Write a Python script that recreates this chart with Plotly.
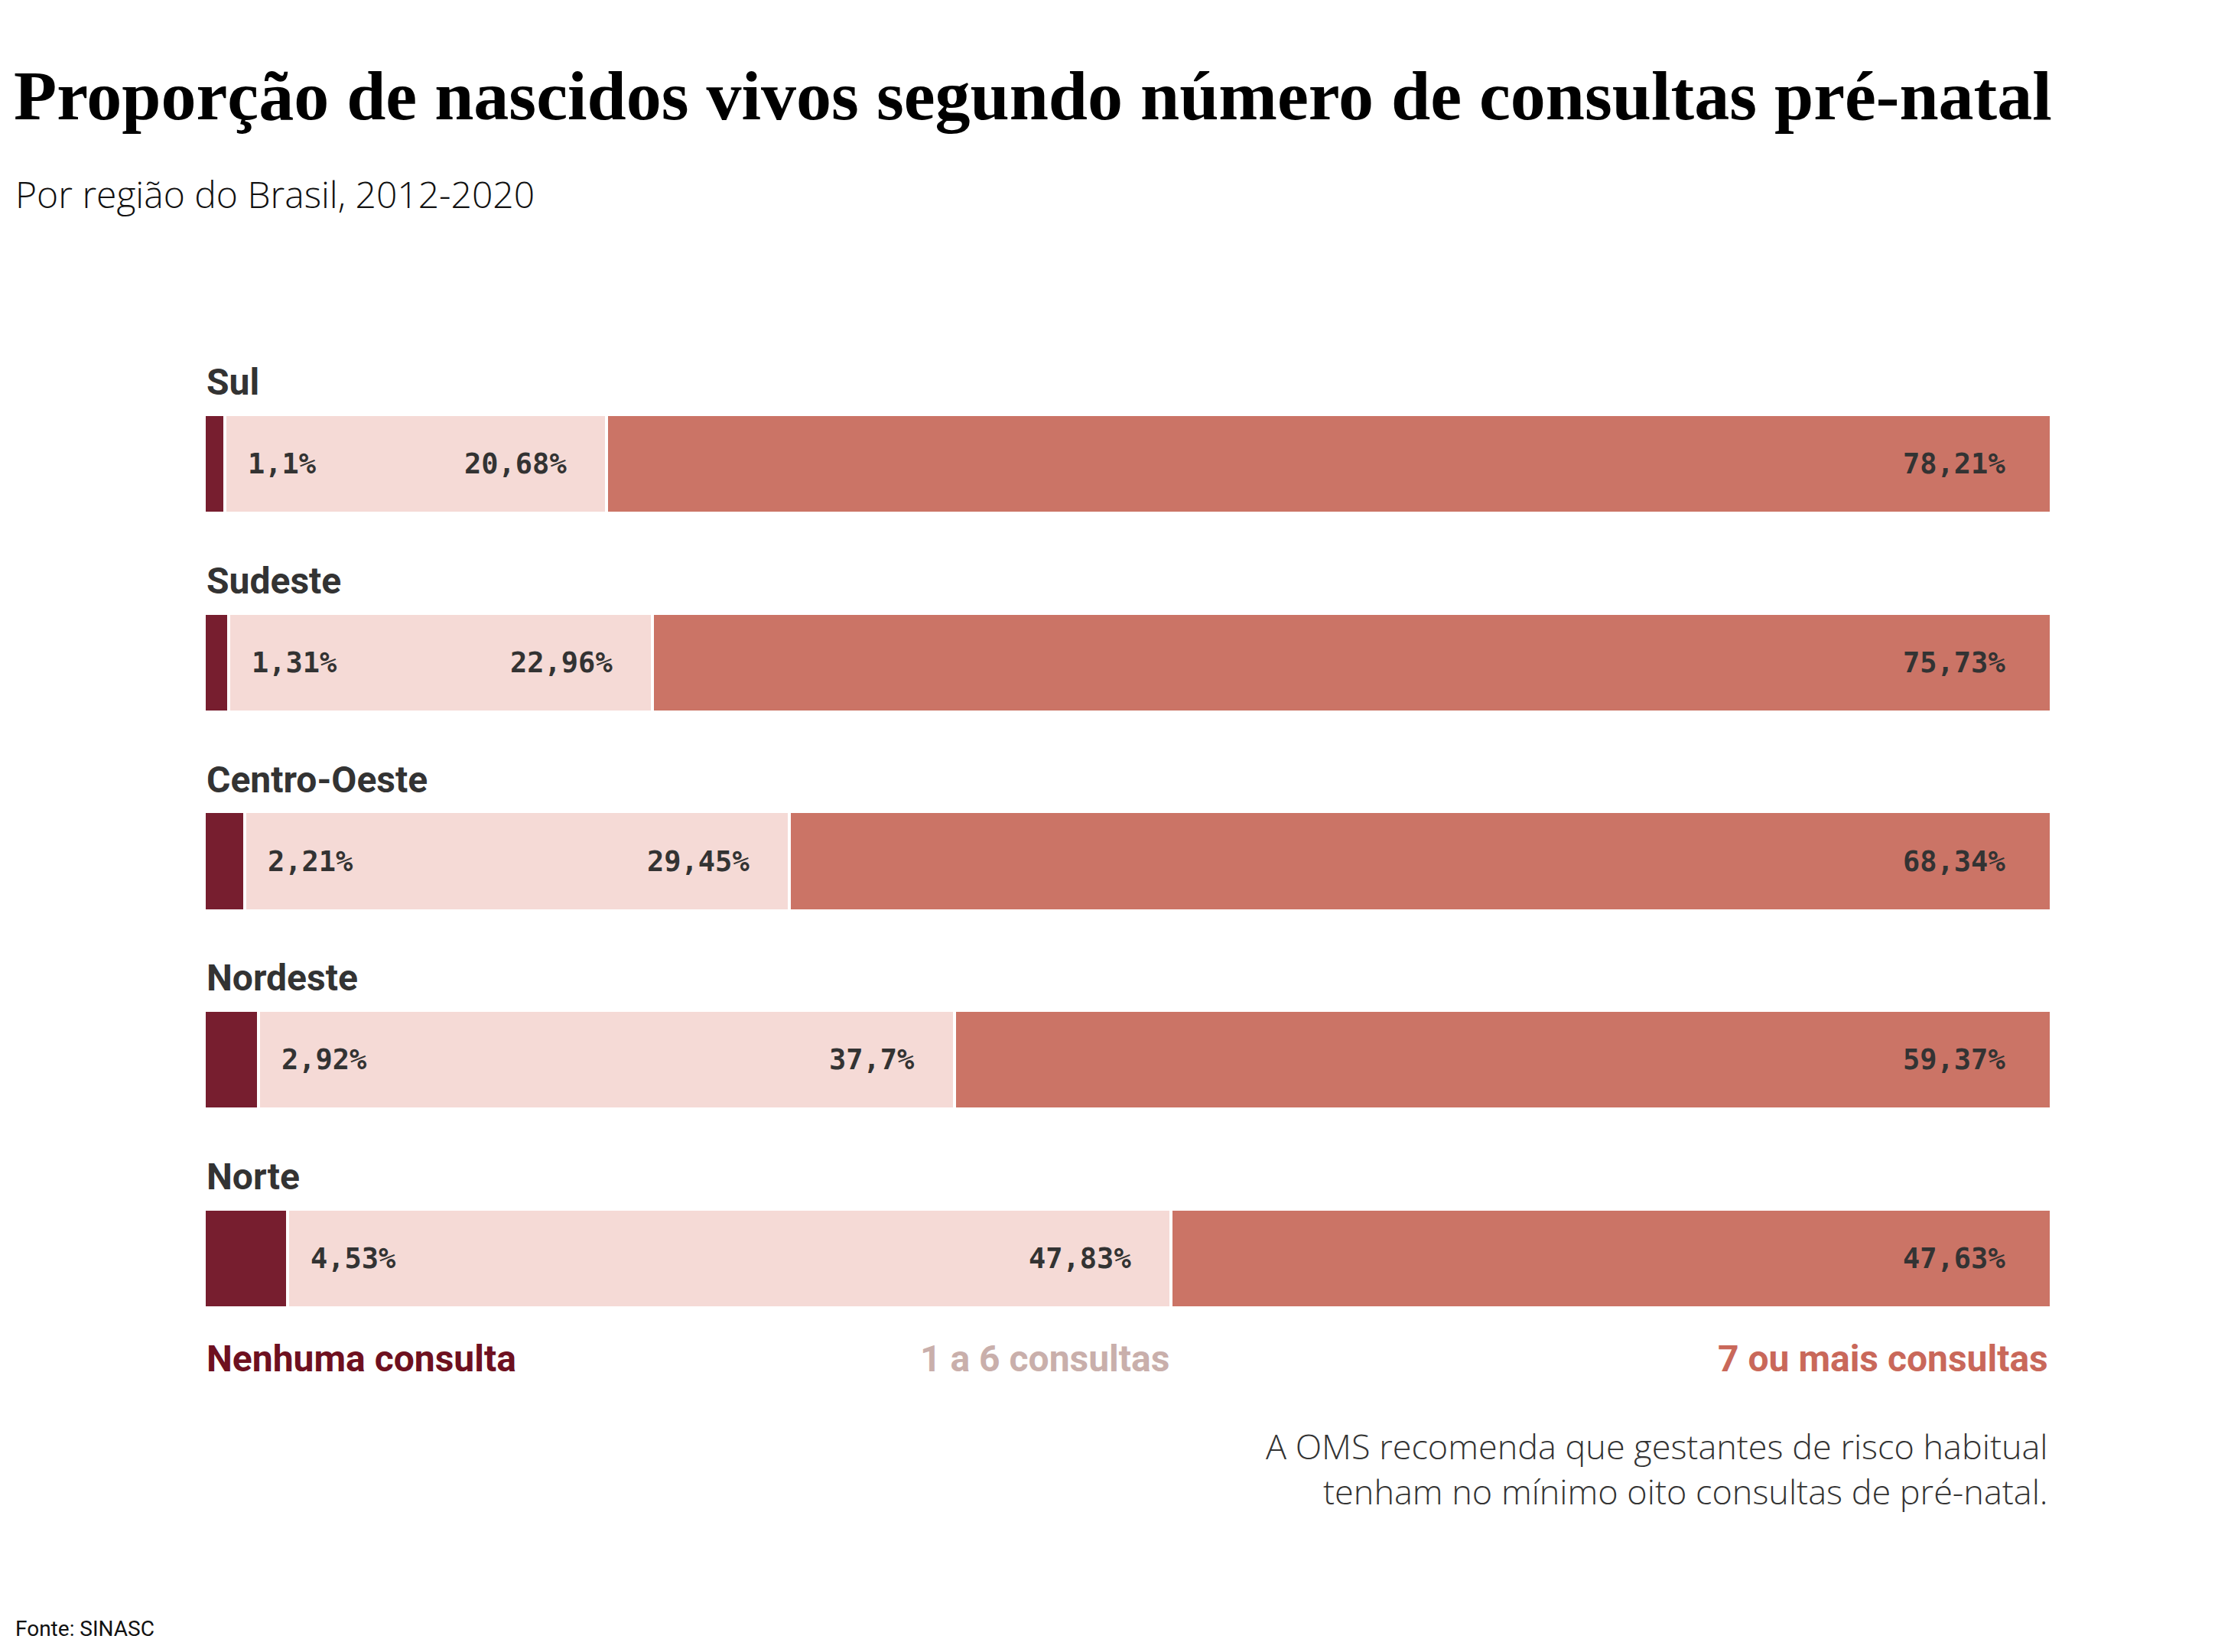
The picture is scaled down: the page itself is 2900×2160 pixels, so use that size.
import plotly.graph_objects as go

# ---- data ----
regions = ["Sul", "Sudeste", "Centro-Oeste", "Nordeste", "Norte"]
nenhuma = [1.1, 1.31, 2.21, 2.92, 4.53]
um_a_seis = [20.68, 22.96, 29.45, 37.7, 47.83]
sete_mais = [78.21, 75.73, 68.34, 59.37, 47.63]
series_names = ["Nenhuma consulta", "1 a 6 consultas", "7 ou mais consultas"]

title = "Proporção de nascidos vivos segundo número de consultas pré-natal"
subtitle = "Por região do Brasil, 2012-2020"
note = "A OMS recomenda que gestantes de risco habitual<br>tenham no mínimo oito consultas de pré-natal."
source = "Fonte: SINASC"

# ---- styles ----
W, H = 2900, 2160
OFF = 8                    # page body margin offset
L, R = 267 - OFF, 2682 - OFF
T, B = 476.7 - OFF, 1774.7 - OFF
bar_colors = ["#771e2f", "#f5dad6", "#cb7466"]
legend_colors = ["#6e1020", "#c9afab", "#c9685a"]
TXT = "#333333"
MONO = "DejaVu Sans Mono"


def fmt(v):
    return f"{v:g}".replace(".", ",") + "%"


def px(xp):
    return (xp - OFF - L) / (R - L)


def py(yp):
    return (B - (yp - OFF)) / (B - T)


fig = go.Figure()
for name, vals, col in zip(series_names, [nenhuma, um_a_seis, sete_mais], bar_colors):
    fig.add_trace(go.Bar(
        y=regions, x=vals, name=name, orientation="h",
        marker=dict(color=col, line=dict(color="white", width=4)),
        hoverinfo="x+name", showlegend=False,
    ))

ann = []
for r, a, b, c in zip(regions, nenhuma, um_a_seis, sete_mais):
    ann.append(dict(x=0, y=r, xref="x", yref="y", text=f"<b>{r}</b>", showarrow=False,
                    xanchor="left", yanchor="middle", yshift=107, xshift=1,
                    font=dict(family="Roboto", size=48, color=TXT)))
    ann.append(dict(x=a, y=r, xref="x", yref="y", text=f"<b>{fmt(a)}</b>", showarrow=False,
                    xanchor="left", yanchor="middle", xshift=28,
                    font=dict(family=MONO, size=37, color=TXT)))
    ann.append(dict(x=a + b, y=r, xref="x", yref="y", text=f"<b>{fmt(b)}</b>", showarrow=False,
                    xanchor="right", yanchor="middle", xshift=-50,
                    font=dict(family=MONO, size=37, color=TXT)))
    ann.append(dict(x=a + b + c, y=r, xref="x", yref="y", text=f"<b>{fmt(c)}</b>", showarrow=False,
                    xanchor="right", yanchor="middle", xshift=-58,
                    font=dict(family=MONO, size=37, color=TXT)))

last = len(regions) - 1
ann.append(dict(x=px(268), y=py(1776), xref="paper", yref="paper", text=f"<b>{series_names[0]}</b>",
                showarrow=False, xanchor="left", yanchor="middle",
                font=dict(family="Roboto", size=48, color=legend_colors[0])))
ann.append(dict(x=nenhuma[last] + um_a_seis[last], y=py(1776), xref="x", yref="paper",
                text=f"<b>{series_names[1]}</b>", showarrow=False, xanchor="right", yanchor="middle",
                font=dict(family="Roboto", size=48, color=legend_colors[1])))
ann.append(dict(x=px(2680), y=py(1776), xref="paper", yref="paper", text=f"<b>{series_names[2]}</b>",
                showarrow=False, xanchor="right", yanchor="middle",
                font=dict(family="Roboto", size=48, color=legend_colors[2])))

ann.append(dict(x=px(16), y=py(125), xref="paper", yref="paper", text=f"<b>{title}</b>",
                showarrow=False, xanchor="left", yanchor="middle",
                font=dict(family="Liberation Serif", size=92, color="#000000")))
ann.append(dict(x=px(18), y=py(253), xref="paper", yref="paper", text=subtitle,
                showarrow=False, xanchor="left", yanchor="middle",
                font=dict(family="Open Sans", size=48, color="#111111", weight=300)))
ann.append(dict(x=px(2680), y=py(1920), xref="paper", yref="paper", text=note, align="right",
                showarrow=False, xanchor="right", yanchor="middle",
                font=dict(family="Open Sans", size=45, color=TXT, weight=300)))
ann.append(dict(x=px(18), y=py(2129), xref="paper", yref="paper", text=source,
                showarrow=False, xanchor="left", yanchor="middle",
                font=dict(family="Roboto", size=28, color="#111111")))

fig.update_layout(
    width=W, height=H,
    barmode="stack", bargap=0.503,
    margin=dict(l=L, r=W - R, t=T, b=H - B, pad=0),
    paper_bgcolor="white", plot_bgcolor="white",
    xaxis=dict(range=[0, 100], visible=False, fixedrange=True),
    yaxis=dict(range=[len(regions) - 0.5, -0.5], visible=False, fixedrange=True),
    annotations=ann,
)

fig.write_html("out.html")
